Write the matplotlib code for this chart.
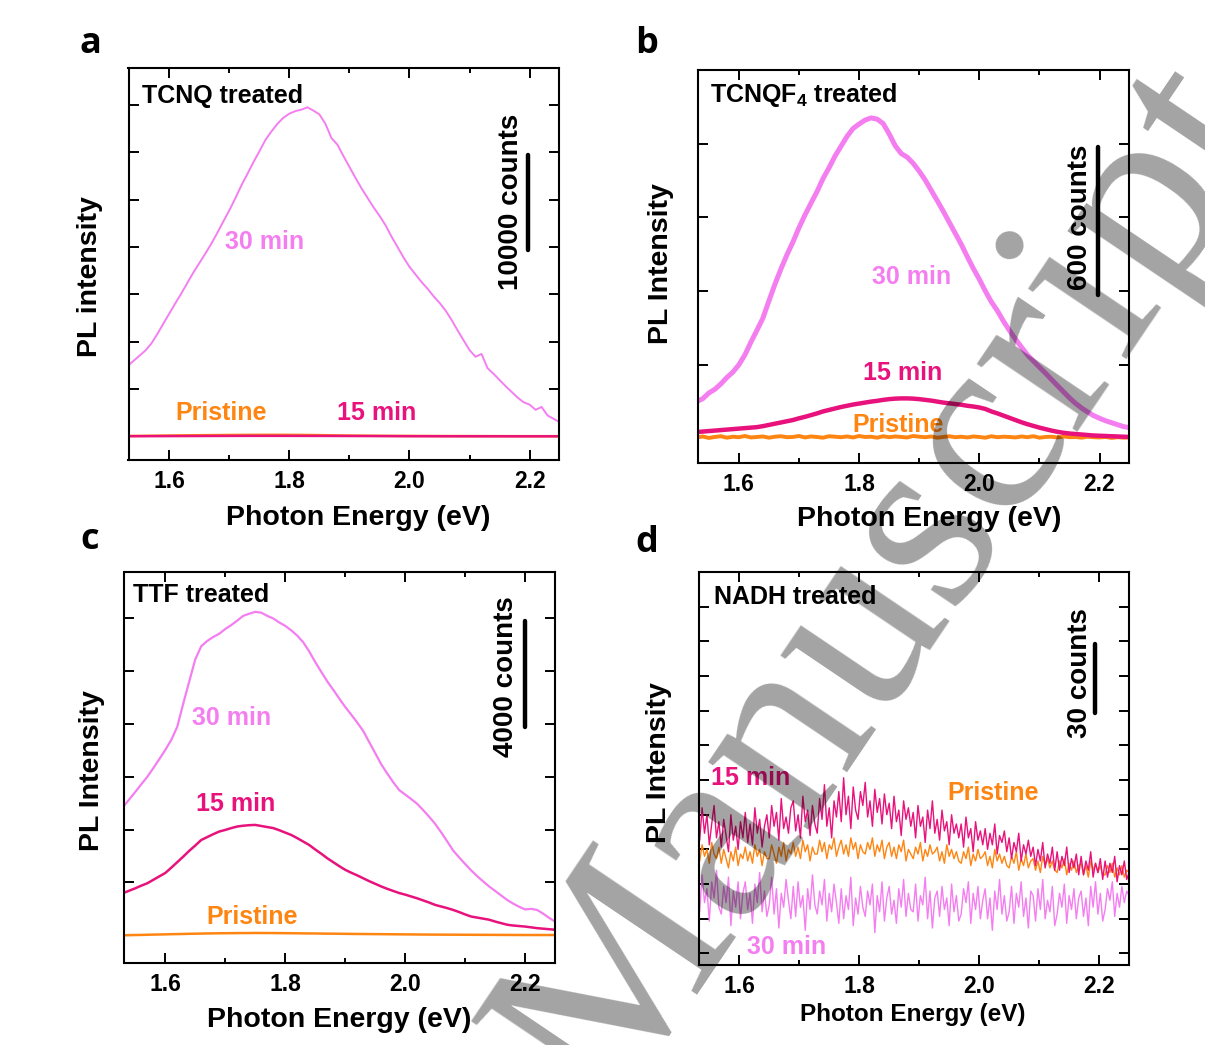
import numpy as np
import matplotlib
matplotlib.use("Agg")
import matplotlib.pyplot as plt

plt.rcParams['font.family'] = ['Liberation Sans', 'DejaVu Sans']
plt.rcParams['font.weight'] = 'bold'
plt.rcParams['mathtext.fontset'] = 'custom'
plt.rcParams['mathtext.rm'] = 'Liberation Sans:bold'
plt.rcParams['mathtext.it'] = 'Liberation Sans:bold'
plt.rcParams['mathtext.bf'] = 'Liberation Sans:bold'

# ---------------------------------------------------------------- data
# photon energy grids (eV)
energy = np.linspace(1.53, 2.25, 73)        # 0.01 eV steps
energy_nadh = np.linspace(1.53, 2.25, 181)  # 0.004 eV steps

# (a) TCNQ treated, counts
tcnq_30 = [7400, 7950, 8500, 9050, 9800, 10800, 11900, 12980, 14050, 15100,
           16200, 17300, 18300, 19300, 20350, 21500, 22700, 23880, 25150, 26500,
           27700, 28950, 30100, 31300, 32200, 33000, 33650, 34080, 34350, 34500,
           34750, 34400, 34000, 33000, 31500, 30800, 29600, 28450, 27300, 26200,
           25200, 24200, 23300, 22300, 21100, 20000, 18900, 17900, 17100, 16300,
           15600, 14800, 14100, 13300, 12300, 11200, 10150, 9110, 8400, 8700,
           7200, 6600, 5950, 5300, 4700, 4100, 3600, 3350, 2800, 3100,
           2200, 1850, 1500]
tcnq_15 = [10, 12, 14, 16, 18, 20, 22, 24, 26, 28,
           30, 32, 34, 36, 38, 40, 42, 44, 46, 47,
           48, 49, 50, 50, 50, 50, 49, 48, 47, 46,
           45, 44, 43, 42, 40, 38, 36, 34, 32, 30,
           28, 26, 24, 22, 20, 18, 16, 14, 13, 12,
           11, 10, 9, 8, 8, 7, 7, 6, 6, 5,
           5, 5, 4, 4, 4, 3, 3, 3, 3, 3,
           2, 2, 2]
tcnq_pristine = [40, 45, 50, 55, 62, 70, 78, 85, 92, 100,
                 106, 112, 118, 124, 130, 135, 140, 144, 148, 151,
                 154, 156, 158, 160, 160, 159, 158, 156, 152, 148,
                 143, 136, 128, 118, 108, 98, 90, 82, 75, 70,
                 65, 60, 56, 52, 48, 45, 42, 40, 38, 36,
                 34, 32, 31, 30, 29, 28, 27, 26, 25, 24,
                 23, 22, 21, 20, 20, 19, 18, 18, 17, 17,
                 16, 16, 15]

# (b) TCNQF4 treated, counts
tcnqf4_30 = [150, 162, 185, 200, 222, 248, 270, 300, 340, 392,
             440, 490, 560, 628, 690, 748, 800, 858, 910, 958,
             1005, 1058, 1102, 1150, 1190, 1230, 1262, 1280, 1296, 1305,
             1300, 1282, 1240, 1192, 1160, 1145, 1120, 1088, 1052, 1010,
             968, 925, 880, 835, 790, 740, 692, 648, 600, 556,
             520, 478, 440, 405, 372, 340, 315, 290, 266, 240,
             215, 190, 165, 143, 124, 108, 93, 82, 72, 64,
             56, 48, 44]
tcnqf4_15 = [26, 28, 30, 32, 34, 36, 38, 40, 42, 44,
             46, 50, 55, 60, 65, 70, 75, 82, 88, 95,
             102, 110, 116, 122, 128, 133, 138, 142, 146, 150,
             153, 157, 160, 162, 163, 163, 162, 160, 157, 154,
             150, 146, 143, 140, 137, 133, 130, 126, 120, 110,
             102, 93, 84, 75, 66, 58, 51, 44, 38, 32,
             27, 23, 20, 18, 16, 14, 12, 11, 10, 9,
             8, 7, 6]
tcnqf4_pristine = [4, 8, 2, 6, 9, 3, 7, 5, 10, 4,
                   6, 8, 3, 7, 9, 5, 6, 10, 4, 8,
                   6, 3, 9, 7, 5, 8, 4, 10, 6, 7,
                   3, 9, 5, 8, 6, 4, 10, 7, 5, 8,
                   3, 6, 9, 5, 7, 4, 8, 6, 3, 9,
                   5, 7, 6, 4, 8, 5, 9, 3, 6, 7,
                   4, 8, 5, 6, 3, 7, 5, 4, 6, 2,
                   5, 3, 4]

# (c) TTF treated, counts
ttf_30 = [4870, 5150, 5430, 5720, 6000, 6330, 6670, 7020, 7400, 7900,
          8780, 9620, 10450, 10950, 11150, 11300, 11420, 11600, 11750, 11920,
          12100, 12180, 12250, 12220, 12100, 12000, 11850, 11720, 11550, 11350,
          11100, 10750, 10350, 9980, 9620, 9300, 8970, 8650, 8360, 8060,
          7740, 7320, 6900, 6480, 6130, 5800, 5500, 5330, 5160, 4980,
          4740, 4490, 4220, 3900, 3560, 3210, 2950, 2700, 2460, 2240,
          2040, 1850, 1680, 1510, 1340, 1200, 1080, 980, 1000, 960,
          820, 660, 520]
ttf_15 = [1600, 1690, 1780, 1880, 1970, 2100, 2230, 2360, 2560, 2770,
          2980, 3200, 3400, 3610, 3720, 3830, 3930, 3990, 4060, 4120,
          4150, 4170, 4180, 4140, 4100, 4060, 3980, 3890, 3800, 3680,
          3550, 3420, 3250, 3090, 2920, 2770, 2620, 2480, 2370, 2270,
          2160, 2050, 1950, 1850, 1760, 1680, 1600, 1540, 1470, 1400,
          1320, 1240, 1150, 1090, 1030, 960, 880, 790, 710, 670,
          630, 590, 520, 460, 400, 370, 350, 330, 300, 270,
          250, 230, 210]
ttf_pristine = [0, 5, 10, 14, 20, 26, 30, 35, 41, 45,
                50, 56, 60, 64, 70, 72, 76, 78, 80, 83,
                84, 85, 87, 86, 85, 84, 82, 80, 78, 75,
                72, 70, 68, 65, 62, 60, 58, 55, 52, 50,
                48, 46, 44, 42, 40, 38, 36, 34, 32, 30,
                28, 26, 25, 24, 23, 22, 21, 20, 19, 18,
                17, 16, 15, 14, 13, 12, 11, 10, 10, 10,
                10, 10, 10]

# (d) NADH treated, counts
nadh_15 = [58, 49, 63, 52, 60, 47, 56, 64, 50, 57,
           46, 58, 51, 44, 60, 49, 55, 45, 57, 50,
           61, 48, 56, 47, 63, 52, 58, 46, 55, 60,
           50, 64, 55, 61, 49, 67, 54, 59, 52, 63,
           66, 53, 60, 50, 68, 57, 62, 51, 64, 56,
           52, 67, 58, 73, 55, 63, 50, 66, 59, 70,
           57, 76, 60, 68, 54, 72, 62, 58, 70, 64,
           74, 59, 66, 55, 71, 61, 67, 56, 69, 60,
           65, 54, 68, 57, 62, 51, 66, 58, 63, 55,
           61, 50, 64, 55, 59, 48, 62, 54, 66, 52,
           58, 49, 62, 53, 57, 47, 60, 52, 56, 50,
           56, 46, 59, 50, 54, 44, 57, 49, 53, 47,
           54, 45, 52, 47, 56, 43, 51, 48, 53, 44,
           50, 41, 48, 44, 52, 40, 47, 43, 49, 42,
           46, 38, 45, 40, 48, 37, 43, 39, 46, 36,
           44, 36, 42, 38, 46, 35, 41, 37, 43, 34,
           42, 34, 40, 36, 44, 33, 39, 35, 41, 32,
           40, 33, 39, 35, 42, 31, 38, 34, 40, 32,
           35]
nadh_pristine = [46, 40, 47, 42, 45, 39, 48, 43, 41, 46,
                 39, 45, 41, 37, 44, 40, 46, 38, 43, 41,
                 46, 40, 44, 39, 47, 42, 45, 38, 44, 41,
                 41, 47, 43, 39, 46, 42, 48, 40, 45, 43,
                 48, 42, 46, 41, 49, 44, 47, 40, 46, 43,
                 43, 49, 44, 48, 41, 47, 45, 50, 42, 46,
                 49, 43, 47, 42, 50, 45, 48, 41, 47, 44,
                 43, 48, 45, 50, 42, 47, 44, 49, 41, 46,
                 48, 42, 46, 41, 47, 44, 49, 40, 45, 43,
                 41, 46, 43, 48, 40, 45, 42, 47, 43, 44,
                 46, 40, 44, 39, 47, 42, 45, 41, 44, 40,
                 39, 44, 41, 46, 38, 43, 40, 45, 41, 42,
                 44, 38, 42, 37, 45, 40, 43, 39, 42, 38,
                 37, 42, 39, 44, 36, 41, 38, 43, 37, 40,
                 41, 36, 40, 35, 42, 38, 41, 37, 40, 36,
                 35, 40, 37, 41, 34, 39, 36, 40, 35, 38,
                 39, 34, 38, 33, 40, 36, 39, 35, 38, 34,
                 34, 38, 35, 39, 33, 37, 34, 38, 33, 36,
                 35]
nadh_30 = [30, 18, 34, 22, 28, 14, 31, 24, 36, 20,
           17, 29, 22, 33, 12, 27, 20, 31, 15, 26,
           31, 19, 26, 13, 30, 22, 35, 18, 27, 16,
           21, 33, 17, 28, 11, 26, 20, 32, 23, 15,
           29, 16, 31, 20, 25, 10, 28, 19, 34, 21,
           17, 27, 21, 32, 14, 26, 18, 30, 22, 13,
           28, 15, 25, 19, 33, 12, 24, 17, 29, 20,
           16, 27, 21, 30, 9, 25, 18, 31, 14, 24,
           29, 17, 23, 13, 28, 20, 32, 16, 26, 19,
           18, 30, 14, 25, 21, 33, 15, 27, 11, 24,
           27, 16, 29, 19, 24, 12, 30, 18, 25, 14,
           17, 28, 22, 31, 13, 26, 19, 29, 15, 23,
           28, 15, 24, 10, 27, 19, 32, 17, 25, 14,
           18, 29, 13, 26, 20, 31, 16, 24, 11, 27,
           25, 14, 28, 19, 32, 15, 23, 18, 29, 12,
           17, 26, 20, 30, 13, 25, 19, 28, 15, 24,
           27, 16, 24, 12, 29, 20, 31, 17, 26, 14,
           19, 28, 23, 31, 16, 26, 20, 29, 22, 27,
           25]

x_major = [1.6, 1.8, 2.0, 2.2]
x_major_labels = ['1.6', '1.8', '2.0', '2.2']
x_minor = [1.7, 1.9, 2.1]

PINK30 = '#f47ef0'
MAG15 = '#e8127c'
ORANGE = '#ff8512'

# ---------------------------------------------------------------- figure
W, H = 1205, 1045
fig = plt.figure(figsize=(W / 100, H / 100), dpi=100)


def make_axes(box):
    l, t, r, b = box
    return fig.add_axes([l / W, 1 - b / H, (r - l) / W, (b - t) / H])


def to_axes(box, x, y):
    l, t, r, b = box
    return (x - l) / (r - l), (b - y) / (b - t)


def style(ax, box, ylim, yticks, ylabel, ylab_xy, xlabel, xlab_xy, xlab_size):
    ax.set_xlim(1.532, 2.249)
    ax.set_ylim(*ylim)
    ax.set_xticks(x_major)
    ax.set_xticklabels(x_major_labels)
    ax.set_xticks(x_minor, minor=True)
    ax.set_yticks(yticks)
    ax.tick_params(which='both', direction='in', top=True, right=True,
                   width=1.4, labelleft=False)
    ax.tick_params(which='major', length=7, labelsize=16.5, pad=7)
    ax.tick_params(which='minor', length=3.5)
    for s in ax.spines.values():
        s.set_linewidth(1.5)
    ax.set_ylabel(ylabel, fontsize=20.5, fontweight='bold', va='center')
    ax.yaxis.set_label_coords(*to_axes(box, *ylab_xy))
    ax.set_xlabel(xlabel, fontsize=xlab_size, fontweight='bold', va='center')
    ax.xaxis.set_label_coords(*to_axes(box, *xlab_xy))


def put(ax, box, x, y, s, color='black', size=18, ha='left', rot=0):
    ax.text(*to_axes(box, x, y), s, transform=ax.transAxes, color=color,
            fontsize=size, fontweight='bold', ha=ha, va='center',
            rotation=rot)


# (a) TCNQ
box_a = (128.5, 68, 559, 460)
ax = make_axes(box_a)
ax.plot(energy, tcnq_30, color=PINK30, lw=1.4)
ax.plot(energy, tcnq_pristine, color=ORANGE, lw=1.8)
ax.plot(energy, tcnq_15, color=MAG15, lw=1.8)
ax.plot([2.197, 2.197], [19700, 29700], color='black', lw=3.2,
        solid_capstyle='round')
style(ax, box_a, (-2500, 38900), np.arange(5000, 35001, 5000),
      'PL intensity', (90, 277), 'Photon Energy (eV)', (358, 518), 20.5)
put(ax, box_a, 142, 96, 'TCNQ treated')
put(ax, box_a, 225, 242, '30 min', PINK30)
put(ax, box_a, 175, 413, 'Pristine', ORANGE)
put(ax, box_a, 337, 413, '15 min', MAG15)
put(ax, box_a, 511, 202, '10000 counts', size=20, ha='center', rot=90)

# (b) TCNQF4
box_b = (698, 70, 1129, 463)
ax = make_axes(box_b)
ax.plot(energy, tcnqf4_30, color=PINK30, lw=3.6)
ax.plot(energy, tcnqf4_pristine, color=ORANGE, lw=2.8)
ax.plot(energy, tcnqf4_15, color=MAG15, lw=3.2)
ax.plot([2.198, 2.198], [585, 1185], color='black', lw=3.2,
        solid_capstyle='round')
style(ax, box_b, (-100, 1500), [300, 600, 900, 1200],
      'PL Intensity', (661, 264), 'Photon Energy (eV)', (929, 519), 20.5)
put(ax, box_b, 710, 95, r'TCNQF$_4$ treated')
put(ax, box_b, 872, 277, '30 min', PINK30)
put(ax, box_b, 863, 373, '15 min', MAG15)
put(ax, box_b, 852, 425, 'Pristine', ORANGE)
put(ax, box_b, 1080, 217, '600 counts', size=20, ha='center', rot=90)

# (c) TTF
box_c = (124.5, 572, 554.5, 963)
ax = make_axes(box_c)
ax.plot(energy, ttf_30, color=PINK30, lw=1.6)
ax.plot(energy, ttf_15, color=MAG15, lw=1.8)
ax.plot(energy, ttf_pristine, color=ORANGE, lw=1.8)
ax.plot([2.2, 2.2], [7900, 11900], color='black', lw=3.2,
        solid_capstyle='round')
style(ax, box_c, (-1050, 13760), np.arange(2000, 12001, 2000),
      'PL Intensity', (92, 771), 'Photon Energy (eV)', (339, 1020), 20.5)
put(ax, box_c, 133, 595, 'TTF treated')
put(ax, box_c, 192, 718, '30 min', PINK30)
put(ax, box_c, 196, 804, '15 min', MAG15)
put(ax, box_c, 206, 917, 'Pristine', ORANGE)
put(ax, box_c, 506, 677, '4000 counts', size=20, ha='center', rot=90)

# (d) NADH
box_d = (698.5, 572, 1128.5, 965)
ax = make_axes(box_d)
ax.plot(energy_nadh, nadh_30, color=PINK30, lw=1.0)
ax.plot(energy_nadh, nadh_pristine, color=ORANGE, lw=1.0)
ax.plot(energy_nadh, nadh_15, color=MAG15, lw=1.0)
ax.plot([2.193, 2.193], [104, 134], color='black', lw=3.2,
        solid_capstyle='round')
style(ax, box_d, (-5, 165), np.arange(0, 151, 15),
      'PL Intensity', (659, 763), 'Photon Energy (eV)', (913, 1015), 17.5)
put(ax, box_d, 714, 597, 'NADH treated')
put(ax, box_d, 711, 778, '15 min', MAG15)
put(ax, box_d, 947, 793, 'Pristine', ORANGE)
put(ax, box_d, 747, 947, '30 min', PINK30)
put(ax, box_d, 1080, 673, '30 counts', size=20, ha='center', rot=90)

# panel letters
for letter, x, y in [('a', 90, 44), ('b', 647, 44), ('c', 90, 540), ('d', 647, 543)]:
    fig.text(x / W, 1 - y / H, letter, fontsize=26, fontweight='bold',
             family=['Open Sans', 'DejaVu Sans'], ha='center', va='center')

# watermark
fig.text(607 / W, 1 - 1117 / H, 'Manuscript', rotation=56,
         rotation_mode='anchor', ha='left', va='baseline', fontsize=189,
         family=['Liberation Serif', 'DejaVu Serif'], fontweight='normal',
         color='black', alpha=0.36, zorder=20)

fig.savefig('out.png', dpi=100)
